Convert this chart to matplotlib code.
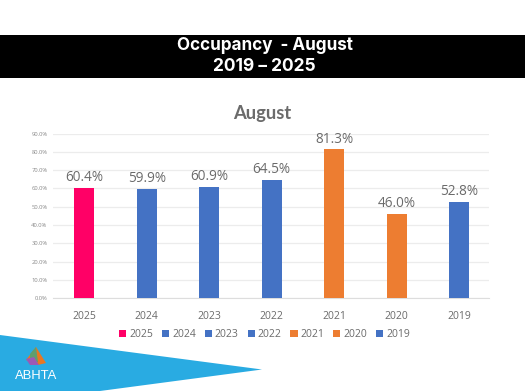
import matplotlib
matplotlib.use("Agg")
import matplotlib.pyplot as plt
from matplotlib.patches import Polygon, Rectangle
from matplotlib.ticker import FuncFormatter, MultipleLocator

years = ["2025", "2024", "2023", "2022", "2021", "2020", "2019"]
occupancy = [60.4, 59.9, 60.9, 64.5, 81.3, 46.0, 52.8]
colors = ["#FF0066", "#4472C4", "#4472C4", "#4472C4", "#ED7D31", "#ED7D31", "#4472C4"]

W, H = 525, 391
GREY = "#6b6b6b"
fig = plt.figure(figsize=(W / 100, H / 100), dpi=100, facecolor="white")

# page furniture in pixel coordinates
bg = fig.add_axes([0, 0, 1, 1])
bg.set_xlim(0, W)
bg.set_ylim(H, 0)
bg.axis("off")
bg.add_patch(Rectangle((0, 35), W, 43, fc="black", ec="none"))
bg.text(W / 2 + 2, 45, "Occupancy  - August", color="white", fontsize=12.3, fontweight="bold",
        family="Inter", ha="center", va="center")
bg.text(W / 2 + 1.5, 66.5, "2019 – 2025", color="white", fontsize=12.5, fontweight="bold",
        family="Inter", ha="center", va="center")
bg.text(262, 113, "August", color=GREY, fontsize=13.2, fontweight="bold", family="Lato",
        ha="center", va="center")
bg.add_patch(Polygon([(0, 335), (262, 369.5), (100, 391), (0, 391)], fc="#29ABE2", ec="none"))
# logo
bg.add_patch(Polygon([(26, 360), (36, 347), (46, 363), (38, 365)], fc="#E87722", ec="none"))
bg.add_patch(Polygon([(30, 354), (36, 347), (38, 362), (30, 362)], fc="#5E9E6E", ec="none"))
bg.add_patch(Polygon([(26, 359), (34, 357), (39, 365), (30, 365)], fc="#9B59B6", ec="none"))
bg.text(36.5, 376, "ABHTA", color="white", fontsize=9.4, family="Liberation Sans", ha="center", va="center")

# chart
x0, x1, y_top, y_bot = 53, 489, 133.5, 298.3
ax = fig.add_axes([x0 / W, 1 - y_bot / H, (x1 - x0) / W, (y_bot - y_top) / H])
ax.set_facecolor("none")
positions = list(range(len(years)))
for p, y, v, c in zip(positions, years, occupancy, colors):
    ax.bar(p, v, width=0.32, color=c, label=y, zorder=3)
    ax.annotate(f"{v:.1f}%", (p, v), xytext=(0, 2), textcoords="offset points", ha="center",
                va="bottom", fontsize=9.8, color=GREY, family="Open Sans")
ax.set_xlim(-0.5, 6.48)
ax.set_ylim(0, 90)
ax.yaxis.set_major_locator(MultipleLocator(10))
ax.yaxis.set_major_formatter(FuncFormatter(lambda v, _: f"{v:.1f}%"))
ax.set_xticks(positions, years)
ax.grid(axis="y", color="#ececec", lw=0.9, zorder=0)
ax.set_axisbelow(True)
for s in ["top", "right", "left"]:
    ax.spines[s].set_visible(False)
ax.spines["bottom"].set_color("#dddddd")
ax.tick_params(axis="both", length=0)
ax.tick_params(axis="x", labelsize=7.5, labelcolor=GREY, pad=9)
ax.tick_params(axis="y", labelsize=4.2, labelcolor="#8a8a8a", pad=4)
for t in ax.get_xticklabels():
    t.set_family("Open Sans")
for t in ax.get_yticklabels():
    t.set_family("Open Sans")
ax.legend(loc="center", bbox_to_anchor=((264.5 - x0) / (x1 - x0), -0.2215), ncol=7, frameon=False,
          prop={"family": "Open Sans", "size": 7.5}, labelcolor=GREY,
          handlelength=0.68, handleheight=0.68, handletextpad=0.3, columnspacing=0.85,
          borderpad=0, borderaxespad=0)
fig.savefig("out.png", dpi=100, facecolor="white")
